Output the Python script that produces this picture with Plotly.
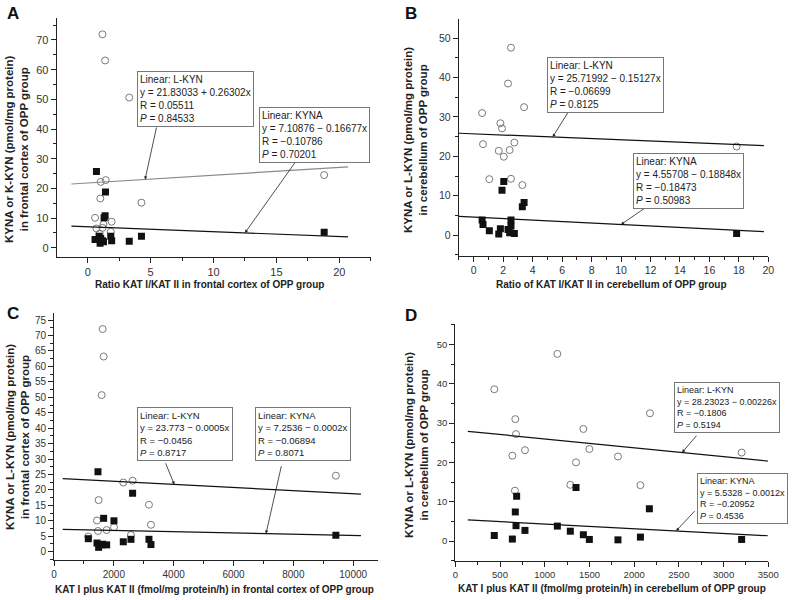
import plotly.graph_objects as go

# ---- data ----
# panel A: ratio KAT I/KAT II, frontal cortex
a_lkyn_x = [1.17, 1.38, 3.3, 1.43, 1.03, 1.0, 4.27, 18.8, 0.58, 1.9, 1.25, 0.69, 1.17, 1.83, 0.95]
a_lkyn_y = [71.9, 63.1, 50.6, 22.8, 22.2, 16.6, 15.2, 24.5, 10.1, 8.8, 7.9, 6.5, 6.7, 5.4, 4.8]
a_kyna_x = [0.69, 1.41, 1.3, 1.38, 4.27, 18.8, 3.3, 1.9, 1.83, 0.58, 0.9, 0.98, 1.17, 1.03, 1.25]
a_kyna_y = [25.7, 18.8, 10.1, 10.8, 3.9, 5.2, 2.2, 2.4, 3.9, 2.8, 3.9, 1.5, 2.4, 3.1, 2.0]

# panel B: ratio KAT I/KAT II, cerebellum
b_lkyn_x = [2.53, 2.33, 3.42, 0.57, 1.81, 1.92, 0.63, 2.76, 1.7, 2.44, 2.04, 1.06, 2.53, 3.3, 17.85]
b_lkyn_y = [47.6, 38.5, 32.5, 31.0, 28.4, 27.1, 23.1, 23.5, 21.4, 21.6, 19.9, 14.2, 14.3, 12.7, 22.5]
b_kyna_x = [2.04, 1.92, 3.42, 3.3, 0.57, 0.63, 1.06, 1.81, 1.7, 2.53, 2.53, 2.33, 2.44, 2.76, 17.85]
b_kyna_y = [13.6, 11.4, 8.3, 7.2, 3.8, 2.7, 1.1, 1.6, 0.25, 3.8, 2.3, 1.4, 0.6, 0.4, 0.4]

# panel C: KAT I + KAT II, frontal cortex
c_lkyn_x = [1626, 1659, 1592, 9421, 2316, 2628, 1492, 3174, 1437, 3241, 2004, 1760, 1470, 2572, 1147]
c_lkyn_y = [72.1, 63.2, 50.7, 24.6, 22.4, 23.0, 16.7, 15.2, 10.1, 8.7, 7.9, 7.0, 6.7, 5.4, 4.9]
c_kyna_x = [1470, 2628, 1659, 2004, 9421, 1147, 2572, 3174, 2316, 3241, 1437, 1760, 1592, 1492, 1626]
c_kyna_y = [25.9, 18.9, 10.8, 10.0, 5.3, 4.2, 4.0, 4.0, 3.2, 2.3, 2.8, 2.2, 2.2, 1.4, 2.4]

# panel D: KAT I + KAT II, cerebellum
d_lkyn_x = [1141, 436, 671, 679, 2177, 1432, 638, 779, 1499, 1350, 1819, 1286, 2070, 667, 3202]
d_lkyn_y = [47.6, 38.6, 31.0, 27.2, 32.5, 28.5, 21.7, 23.1, 23.4, 20.0, 21.5, 14.3, 14.2, 12.8, 22.5]
d_kyna_x = [1350, 686, 671, 2170, 679, 436, 638, 779, 1141, 1286, 1432, 1499, 1819, 2070, 3202]
d_kyna_y = [13.6, 11.4, 7.4, 8.2, 3.9, 1.4, 0.5, 2.7, 3.8, 2.5, 1.6, 0.4, 0.3, 1.0, 0.4]

# fitted lines: (intercept, slope, x from, x to)
fits = {
    "A": [(21.83033, 0.26302, -1.3, 20.7), (7.10876, -0.16677, -1.3, 20.7)],
    "B": [(25.71992, -0.15127, -1.0, 19.7), (4.55708, -0.18848, -1.0, 19.7)],
    "C": [(23.773, -0.0005, 290, 10260), (7.2536, -0.0002, 290, 10260)],
    "D": [(28.23023, -0.00226, 140, 3495), (5.5328, -0.0012, 140, 3495)],
}

boxes = {
    "A": ["Linear: L-KYN<br>y = 21.83033 + 0.26302x<br>R = 0.05511<br><i>P</i> = 0.84533",
          "Linear: KYNA<br>y = 7.10876 − 0.16677x<br>R = −0.10786<br><i>P</i> = 0.70201"],
    "B": ["Linear: L-KYN<br>y = 25.71992 − 0.15127x<br>R = −0.06699<br><i>P</i> = 0.8125",
          "Linear: KYNA<br>y = 4.55708 − 0.18848x<br>R = −0.18473<br><i>P</i> = 0.50983"],
    "C": ["Linear: L-KYN<br>y = 23.773 − 0.0005x<br>R = −0.0456<br><i>P</i> = 0.8717",
          "Linear: KYNA<br>y = 7.2536 − 0.0002x<br>R = −0.06894<br><i>P</i> = 0.8071"],
    "D": ["Linear: L-KYN<br>y = 28.23023 − 0.00226x<br>R = −0.1806<br><i>P</i> = 0.5194",
          "Linear: KYNA<br>y = 5.5328 − 0.0012x<br>R = −0.20952<br><i>P</i> = 0.4536"],
}

xtitles = {
    "A": "Ratio KAT I/KAT II in frontal cortex of OPP group",
    "B": "Ratio of KAT I/KAT II in cerebellum of OPP group",
    "C": "KAT I plus KAT II (fmol/mg protein/h) in frontal cortex of OPP group",
    "D": "KAT I plus KAT II (fmol/mg protein/h) in cerebellum of OPP group",
}
ytitles = {
    "A": "KYNA or K-KYN (pmol/mg protein)<br>in frontal cortex of OPP group",
    "B": "KYNA or L-KYN (pmol/mg protein)<br>in cerebellum of OPP group",
    "C": "KYNA or L-KYN (pmol/mg protein)<br>in frontal cortex of OPP group",
    "D": "KYNA or L-KYN (pmol/mg protein)<br>in cerebellum of OPP group",
}

W, H = 796, 600
FONT = "Arial, Liberation Sans, sans-serif"
INK = "#222"

def px(x):
    return x / W

def py(y):
    return 1 - y / H

# panel geometry in pixels: left, right, top, bottom ; axis ranges ; ticks ; font sizes
panels = {
    "A": dict(box=(56.7, 370.7, 18.3, 256.7), xr=[-2.47, 22.5], yr=[-3.0, 77.3],
              xd=5, xm=2.5, yd=10, ym=5, tf=11, bf=10),
    "B": dict(box=(458.7, 768.3, 19.0, 255.7), xr=[-1.02, 20.0], yr=[-5.25, 54.9],
              xd=2, xm=1, yd=10, ym=5, tf=10.5, bf=10),
    "C": dict(box=(54.0, 378.3, 313.3, 560.0), xr=[0, 10840], yr=[-2.7, 77.2],
              xd=2000, xm=1000, yd=5, ym=2.5, tf=10, bf=9.5),
    "D": dict(box=(455.3, 768.3, 324.0, 561.0), xr=[0, 3500], yr=[-5.08, 55.2],
              xd=500, xm=250, yd=10, ym=5, tf=9.5, bf=9),
}
points = {
    "A": (a_lkyn_x, a_lkyn_y, a_kyna_x, a_kyna_y),
    "B": (b_lkyn_x, b_lkyn_y, b_kyna_x, b_kyna_y),
    "C": (c_lkyn_x, c_lkyn_y, c_kyna_x, c_kyna_y),
    "D": (d_lkyn_x, d_lkyn_y, d_kyna_x, d_kyna_y),
}
# text boxes: (left, top) in pixels
box_pos = {
    "A": [(137, 71), (259, 107)],
    "B": [(546.7, 57.3), (633, 153.3)],
    "C": [(136.7, 407.3), (254.7, 407.3)],
    "D": [(674.3, 381.7), (697, 473.3)],
}
# arrows: (x on fit line, tail offset px)
arrows = {
    "A": [(4.56, 11.7, -53.4), (12.5, 52.7, -74)],
    "B": [(5.36, 16.6, -26.7), (10.0, 29, -20)],
    "C": [(4021, -9.3, -22.7), (7086, 15.7, -69)],
    "D": [(2536, 15.7, -18.4), (2469, 20, -21.3)],
}
xtitle_pos = {"A": (209.7, 284), "B": (611.8, 284), "C": (214, 589), "D": (611.8, 588)}
ytitle_pos = {"A": (17, 149), "B": (415, 140), "C": (17, 437), "D": (416, 445)}
letter_pos = {"A": (5, 2), "B": (403, 2), "C": (5, 302), "D": (403, 304)}

fig = go.Figure()
layout = {}
annotations = []

for i, key in enumerate(["A", "B", "C", "D"], start=1):
    p = panels[key]
    l, r, t, b = p["box"]
    xa = "x" if i == 1 else f"x{i}"
    ya = "y" if i == 1 else f"y{i}"
    common = dict(showline=True, linecolor=INK, linewidth=1, ticks="outside", ticklen=5,
                  tickcolor=INK, tickwidth=1, showgrid=False, zeroline=False,
                  automargin=False, tickformat="d",
                  tickfont=dict(family=FONT, size=p["tf"], color="#333"))
    layout["xaxis" if i == 1 else f"xaxis{i}"] = dict(
        domain=[px(l), px(r)], anchor=ya, range=p["xr"], dtick=p["xd"], tick0=0,
        minor=dict(dtick=p["xm"], tick0=0, ticks="outside", ticklen=3, tickcolor=INK), **common)
    layout["yaxis" if i == 1 else f"yaxis{i}"] = dict(
        domain=[py(b), py(t)], anchor=xa, range=p["yr"], dtick=p["yd"], tick0=0,
        minor=dict(dtick=p["ym"], tick0=0, ticks="outside", ticklen=3, tickcolor=INK), **common)

    lx, ly, kx, ky = points[key]
    fig.add_trace(go.Scatter(x=lx, y=ly, mode="markers", xaxis=xa, yaxis=ya,
                             marker=dict(symbol="circle-open", size=7, color="#7a7a7a",
                                         line=dict(width=1)), showlegend=False))
    fig.add_trace(go.Scatter(x=kx, y=ky, mode="markers", xaxis=xa, yaxis=ya,
                             marker=dict(symbol="square", size=7, color="#111"),
                             showlegend=False))
    for j, (b0, b1, x0, x1) in enumerate(fits[key]):
        col = "#8a8a8a" if (key == "A" and j == 0) else "#111"
        fig.add_trace(go.Scatter(x=[x0, x1], y=[b0 + b1 * x0, b0 + b1 * x1], mode="lines",
                                 xaxis=xa, yaxis=ya, line=dict(color=col, width=1.2),
                                 showlegend=False))
        # arrow pointing at the fit line
        ax_x, dx, dy = arrows[key][j]
        annotations.append(dict(x=ax_x, y=b0 + b1 * ax_x, xref=xa, yref=ya, text="",
                                showarrow=True, ax=dx, ay=dy, arrowhead=2, arrowsize=0.8,
                                arrowwidth=0.8, arrowcolor="#222"))
        bl, bt = box_pos[key][j]
        annotations.append(dict(x=px(bl), y=py(bt), xref="paper", yref="paper",
                                xanchor="left", yanchor="top", align="left",
                                text=boxes[key][j], showarrow=False,
                                font=dict(family=FONT, size=p["bf"], color="#222"),
                                bgcolor="white", bordercolor="#777", borderwidth=1,
                                borderpad=2))

    tx, ty = xtitle_pos[key]
    annotations.append(dict(x=px(tx), y=py(ty), xref="paper", yref="paper", text=xtitles[key],
                            showarrow=False, xanchor="center", yanchor="middle",
                            font=dict(family=FONT, size=10, color="#222", weight="bold")))
    tx, ty = ytitle_pos[key]
    annotations.append(dict(x=px(tx), y=py(ty), xref="paper", yref="paper", text=ytitles[key],
                            showarrow=False, xanchor="center", yanchor="middle", textangle=-90,
                            font=dict(family=FONT, size=11.5, color="#222", weight="bold")))
    tx, ty = letter_pos[key]
    annotations.append(dict(x=px(tx), y=py(ty), xref="paper", yref="paper", text=key,
                            showarrow=False, xanchor="left", yanchor="top",
                            font=dict(family=FONT, size=17, color="#111", weight="bold")))

fig.update_layout(template="none", width=W, height=H, margin=dict(l=0, r=0, t=0, b=0),
                  paper_bgcolor="white", plot_bgcolor="white",
                  annotations=annotations, **layout)

# the page's default body margin would push the 796x600 figure off the window
fig.write_html("out.html", config={"displayModeBar": False},
               post_script="document.body.style.margin='0';")
